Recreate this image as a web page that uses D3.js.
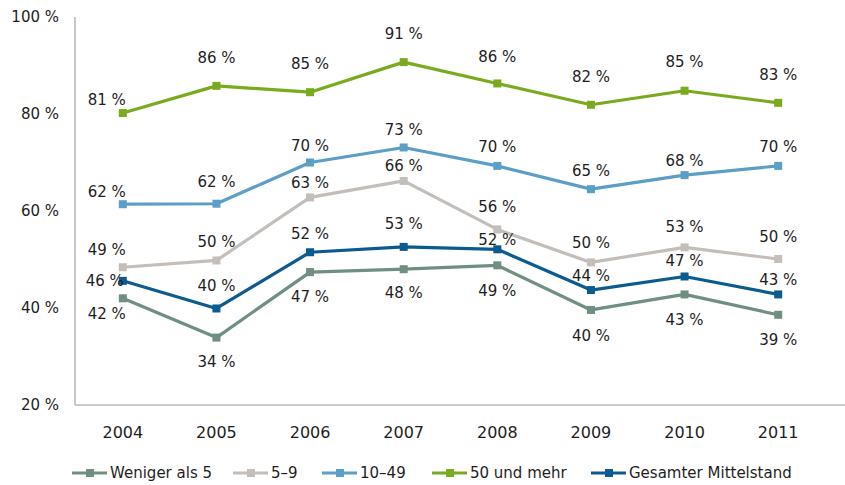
<!DOCTYPE html>
<html>
<head>
<meta charset="utf-8">
<script src="https://cdn.jsdelivr.net/npm/d3@7/dist/d3.min.js"></script>
<style>
    body { margin: 0; background: #fff; }
    svg text { font-family: "DejaVu Sans", sans-serif; fill: #1e1e1e; }
</style>
</head>
<body>
<svg id="chart" width="845" height="485"></svg>
<script>
    // data
    var years = ['2004', '2005', '2006', '2007', '2008', '2009', '2010', '2011'];

    var wenigerAls5 = [42.0, 33.9, 47.4, 48.0, 48.8, 39.6, 42.8, 38.6];
    var fuenfBisNeun = [48.4, 49.8, 62.8, 66.2, 56.2, 49.4, 52.5, 50.1];
    var zehnBis49 = [61.4, 61.5, 70.0, 73.1, 69.3, 64.5, 67.4, 69.3];
    var fuenfzigUndMehr = [80.2, 85.8, 84.5, 90.7, 86.3, 81.9, 84.8, 82.3];
    var gesamt = [45.6, 39.9, 51.5, 52.6, 52.1, 43.7, 46.5, 42.8];

    // labels as printed on the chart
    var wenigerAls5Labels = [42, 34, 47, 48, 49, 40, 43, 39];
    var fuenfBisNeunLabels = [49, 50, 63, 66, 56, 50, 53, 50];
    var zehnBis49Labels = [62, 62, 70, 73, 70, 65, 68, 70];
    var fuenfzigUndMehrLabels = [81, 86, 85, 91, 86, 82, 85, 83];
    var gesamtLabels = [46, 40, 52, 53, 52, 44, 47, 43];

    var yTicks = [20, 40, 60, 80, 100];

    var series = [
        { name: 'Weniger als 5', values: wenigerAls5, labels: wenigerAls5Labels, color: '#6f8f81',
          dy: [15, 24, 25, 24, 25, 26, 25, 25] },
        { name: '5\u20139', values: fuenfBisNeun, labels: fuenfBisNeunLabels, color: '#c3beb9',
          dy: [-18, -19, -15, -15, -23, -20, -21, -22] },
        { name: '10\u201349', values: zehnBis49, labels: zehnBis49Labels, color: '#5b9ec6',
          dy: [-12, -22, -17, -18, -19, -18, -14, -19] },
        { name: '50 und mehr', values: fuenfzigUndMehr, labels: fuenfzigUndMehrLabels, color: '#7aab1e',
          dy: [-13, -28, -28, -28, -27, -28, -29, -28] },
        { name: 'Gesamter Mittelstand', values: gesamt, labels: gesamtLabels, color: '#0b5b8f',
          dy: [0, -23, -18, -23, -10, -14, -16, -15] }
    ];

    var svg = d3.select('#chart');

    var xScale = d3.scaleBand()
        .domain(years)
        .range([76, 825]);

    var yScale = d3.scaleLinear()
        .domain([20, 100])
        .range([405, 17]);

    var xCenter = function (i) {
        return xScale(years[i]) + xScale.bandwidth() / 2;
    };

    // axes
    svg.append('line')
        .attr('x1', 75).attr('x2', 75)
        .attr('y1', yScale(100)).attr('y2', yScale(20))
        .attr('stroke', '#bdb8b3')
        .attr('stroke-width', 1.6);

    svg.append('line')
        .attr('x1', 75).attr('x2', 845)
        .attr('y1', yScale(20)).attr('y2', yScale(20))
        .attr('stroke', '#bdb8b3')
        .attr('stroke-width', 1.6);

    svg.selectAll('.y-tick')
        .data(yTicks)
        .enter().append('text')
        .attr('class', 'y-tick')
        .attr('x', 59)
        .attr('y', function (d) { return yScale(d); })
        .attr('dy', '0.35em')
        .attr('text-anchor', 'end')
        .style('font-size', '15px')
        .text(function (d) { return d + ' %'; });

    svg.selectAll('.x-tick')
        .data(years)
        .enter().append('text')
        .attr('class', 'x-tick')
        .attr('x', function (d, i) { return xCenter(i); })
        .attr('y', 432)
        .attr('dy', '0.35em')
        .attr('text-anchor', 'middle')
        .style('font-size', '16px')
        .text(function (d) { return d; });

    // lines and markers
    var line = d3.line()
        .x(function (d, i) { return xCenter(i); })
        .y(function (d) { return yScale(d); });

    var groups = svg.selectAll('.series')
        .data(series)
        .enter().append('g')
        .attr('class', 'series');

    groups.append('path')
        .attr('d', function (d) { return line(d.values); })
        .attr('fill', 'none')
        .attr('stroke', function (d) { return d.color; })
        .attr('stroke-width', 3.2)
        .attr('stroke-linejoin', 'round');

    groups.each(function (s) {
        d3.select(this).selectAll('rect')
            .data(s.values)
            .enter().append('rect')
            .attr('x', function (d, i) { return xCenter(i) - 4; })
            .attr('y', function (d) { return yScale(d) - 4; })
            .attr('width', 8)
            .attr('height', 8)
            .attr('fill', s.color);
    });

    // data labels on top of everything
    series.forEach(function (s, si) {
        svg.append('g').selectAll('text')
            .data(s.labels)
            .enter().append('text')
            .attr('x', function (d, i) {
                if (si === 4 && i === 0) {
                    return xCenter(i) + 1;
                }
                return xCenter(i) - (i === 0 ? 16 : 0);
            })
            .attr('y', function (d, i) { return yScale(s.values[i]) + s.dy[i]; })
            .attr('dy', '0.35em')
            .attr('text-anchor', function (d, i) {
                return (si === 4 && i === 0) ? 'end' : 'middle';
            })
            .style('font-size', '15px')
            .text(function (d) { return d + ' %'; });
    });

    // legend
    var legendX = [72, 233, 322, 432, 591];
    var legend = svg.selectAll('.legend')
        .data(series)
        .enter().append('g')
        .attr('class', 'legend')
        .attr('transform', function (d, i) { return 'translate(' + legendX[i] + ',473)'; });

    legend.append('line')
        .attr('x1', 0).attr('x2', 35)
        .attr('stroke', function (d) { return d.color; })
        .attr('stroke-width', 3.2);

    legend.append('rect')
        .attr('x', 14).attr('y', -4)
        .attr('width', 8).attr('height', 8)
        .attr('fill', function (d) { return d.color; });

    legend.append('text')
        .attr('x', 38)
        .attr('dy', '0.35em')
        .style('font-size', '15px')
        .text(function (d) { return d.name; });
</script>
</body>
</html>
